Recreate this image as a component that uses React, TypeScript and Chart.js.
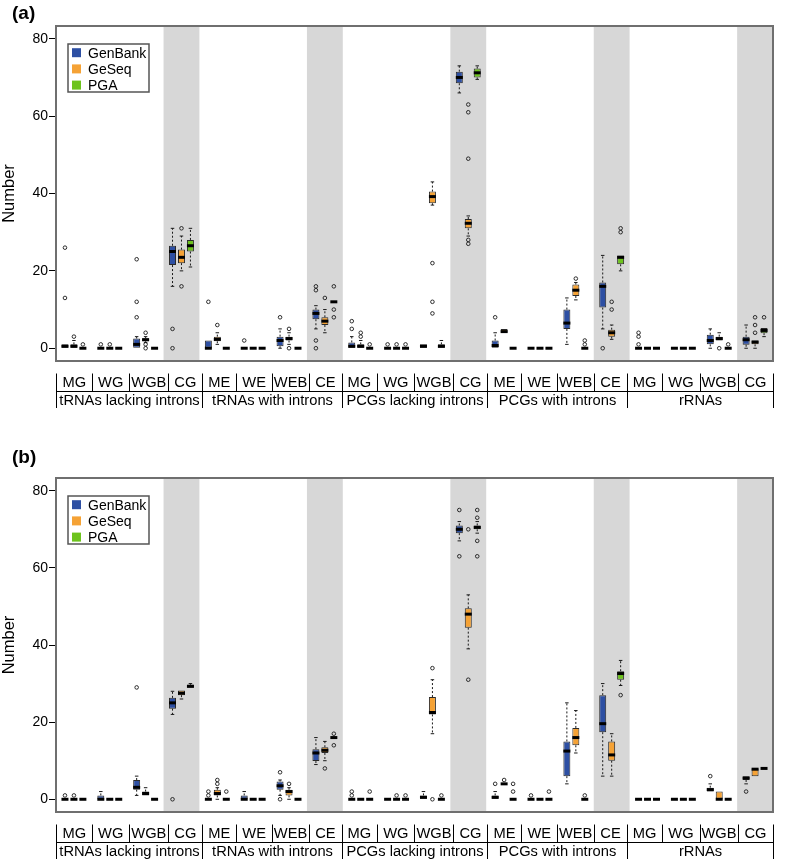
import React, { useEffect, useRef } from 'react';
import { Chart, registerables } from 'chart.js';
Chart.register(...registerables);

// ---------- labels ----------
const sections = ['tRNAs lacking introns', 'tRNAs with introns', 'PCGs lacking introns', 'PCGs with introns', 'rRNAs'];
const subLabels = ['MG', 'WG', 'WGB', 'CG', 'ME', 'WE', 'WEB', 'CE', 'MG', 'WG', 'WGB', 'CG', 'ME', 'WE', 'WEB', 'CE', 'MG', 'WG', 'WGB', 'CG'];
const seriesNames = ['GenBank', 'GeSeq', 'PGA'];
const seriesColors = ['#2d4fa3', '#f5a235', '#6dc31d'];
const yTicks = [0, 20, 40, 60, 80];

// ---------- panel (a): [lowerWhisker, Q1, median, Q3, upperWhisker] ----------
const aGenBank = [
  [0, 0, 0.5, 1, 1], [0, 0, 0, 0, 0], [0, 0, 1, 2.5, 3], [16, 21.5, 25, 26.5, 31],
  [0, 0, 0, 2, 2], [0, 0, 0, 0, 0], [0, 0.5, 2, 3, 5], [5, 7.5, 9, 10, 11],
  [0, 0, 0.5, 1.5, 3], [0, 0, 0, 0, 0], [0, 0, 0.5, 1, 1], [66, 68.5, 70, 71.5, 73],
  [0, 0, 0.7, 2, 4], [0, 0, 0, 0, 0], [1, 5, 6.5, 10, 13], [5, 10.5, 16, 17, 24],
  [0, 0, 0, 0, 0], [0, 0, 0, 0, 0], [0, 1, 2, 3.5, 5], [0, 0.9, 2.2, 3, 6],
];
const aGenBankOut = [[13, 26], [1], [8, 12, 23], [5, 0], [12], [2], [8], [15, 16, 2, 0], [5, 7], [1], [], [], [8], [], [], [0], [1, 3, 4], [], [], []];
const aGeSeq = [
  [0, 0, 0.5, 1, 2], [0, 0, 0, 0, 0], [1.5, 1.8, 2.2, 2.6, 3], [20, 22, 23.5, 25.5, 29],
  [1, 1.8, 2.3, 3, 4], [0, 0, 0, 0, 0], [1, 2, 2.5, 3, 4], [4, 6, 7, 8, 10],
  [0, 0, 0.5, 1, 2], [0, 0, 0, 0, 0], [37, 37.5, 39.2, 40.5, 43], [29, 31, 32.3, 33.4, 34.2],
  [4, 4, 4.3, 5, 5], [0, 0, 0, 0, 0], [12.5, 13.5, 15, 16.5, 17], [2.3, 3, 4, 4.8, 6],
  [0, 0, 0, 0, 0], [0, 0, 0, 0, 0], [2, 2, 2.5, 3, 4], [0, 1, 1.6, 2, 2],
];
const aGeSeqOut = [[3], [1], [4, 1, 0], [31, 16], [6], [], [5, 0], [13], [3, 4], [1], [22, 12, 9], [28, 27, 49, 61, 63], [], [], [18], [10, 12], [], [], [0], [4, 6, 8]];
const aPGA = [
  [0, 0, 0, 0, 0], [0, 0, 0, 0, 0], [0, 0, 0, 0, 0], [21, 25, 26.5, 28, 31],
  [0, 0, 0, 0, 0], [0, 0, 0, 0, 0], [0, 0, 0, 0, 0], [12, 12, 12, 12, 12],
  [0, 0, 0, 0, 0], [0, 0, 0, 0, 0], [0, 0, 0.5, 1, 2], [69.5, 70, 71.2, 72.3, 73],
  [0, 0, 0, 0, 0], [0, 0, 0, 0, 0], [0, 0, 0, 0, 0], [20, 21.7, 23.5, 24, 24],
  [0, 0, 0, 0, 0], [0, 0, 0, 0, 0], [0, 0, 0, 0, 0], [3, 3.9, 4.6, 5.2, 5.2],
];
const aPGAOut = [[1], [], [], [], [], [], [], [16, 10, 8], [1], [1], [], [], [], [], [1, 2], [30, 31], [], [], [1], [8]];

// ---------- panel (b) ----------
const bGenBank = [
  [0, 0, 0, 0, 0], [0, 0, 0, 1, 2], [1, 2.5, 3.1, 5, 6], [22, 23.5, 25, 26.3, 28],
  [0, 0, 0, 0, 0], [0, 0, 0, 1, 2], [1, 2.5, 3.5, 4.6, 5], [9, 9.9, 12, 13, 16],
  [0, 0, 0, 0, 0], [0, 0, 0, 0, 0], [0, 0, 0.5, 1, 2], [67, 69, 70, 71, 72],
  [0, 0, 0.5, 1, 2], [0, 0, 0, 0, 0], [4, 6, 12.5, 15, 25], [6, 17.4, 19.6, 27, 30],
  [0, 0, 0, 0, 0], [0, 0, 0, 0, 0], [2, 2, 2.5, 3, 4], [4, 5, 5.5, 6, 6],
];
const bGenBankOut = [[1], [], [29], [0], [1, 2], [], [7, 0], [], [1, 2], [], [], [63, 75], [4], [1], [], [], [], [], [6], [2]];
const bGeSeq = [
  [0, 0, 0, 0, 0], [0, 0, 0, 0, 0], [1, 1, 1.5, 2, 3], [26, 27, 27.5, 28.2, 28.2],
  [0, 1, 1.5, 2.5, 3], [0, 0, 0, 0, 0], [0, 1, 2, 2.5, 3], [10, 12, 12.7, 13.5, 15],
  [0, 0, 0, 0, 0], [0, 0, 0, 0, 0], [17, 22, 22.5, 26.5, 31], [39, 44.5, 48, 49.5, 53],
  [4, 4, 4, 4, 4], [0, 0, 0, 0, 0], [12, 14, 16, 18.5, 23], [6, 10, 11.5, 15, 17],
  [0, 0, 0, 0, 0], [0, 0, 0, 0, 0], [0, 0, 0, 2, 2], [6, 6, 7.8, 8, 8],
];
const bGeSeqOut = [[1], [], [], [], [4, 5], [], [4], [8], [], [1], [34, 0], [31, 70], [5], [], [], [], [], [], [], []];
const bPGA = [
  [0, 0, 0, 0, 0], [0, 0, 0, 0, 0], [0, 0, 0, 0, 0], [29, 28.9, 29.3, 29.7, 30],
  [0, 0, 0, 0, 0], [0, 0, 0, 0, 0], [0, 0, 0, 0, 0], [16, 16, 16, 16, 16],
  [0, 0, 0, 0, 0], [0, 0, 0, 0, 0], [0, 0, 0, 0, 0], [69, 70, 70.5, 71, 72],
  [0, 0, 0, 0, 0], [0, 0, 0, 0, 0], [0, 0, 0, 0, 0], [29.5, 31, 32.6, 33.2, 36],
  [0, 0, 0, 0, 0], [0, 0, 0, 0, 0], [0, 0, 0, 0, 0], [8, 8, 8, 8, 8],
];
const bPGAOut = [[], [], [], [], [2], [], [], [17, 14], [2], [1], [1], [75, 73, 67, 63], [2, 4], [2], [1], [27], [], [], [], []];

const FONT = '"Liberation Sans", Arial, Helvetica, sans-serif';
const BAND = '#d7d7d7';
const INK = '#1a1a1a';

const boxPlugin = {
  id: 'boxExtras',
  beforeDatasetsDraw(chart: any) {
    const { ctx, chartArea: ca } = chart;
    const x = chart.scales.x;
    const y = chart.scales.y;
    const n = subLabels.length;
    const w = (ca.right - ca.left) / n;
    ctx.save();
    ctx.fillStyle = BAND;
    subLabels.forEach((l, i) => {
      if (l.startsWith('C')) {
        const cx = x.getPixelForValue(i);
        ctx.fillRect(cx - w / 2, ca.top, w, ca.bottom - ca.top);
      }
    });
    // whiskers
    ctx.strokeStyle = INK;
    ctx.lineWidth = 1;
    chart.data.datasets.forEach((ds: any, di: number) => {
      const meta = chart.getDatasetMeta(di);
      ds.box.forEach((b: number[], i: number) => {
        const el = meta.data[i];
        const cx = el.x;
        const bw = el.width;
        const [lo, q1, , q3, hi] = b;
        const seg = (a: number, c: number) => {
          ctx.setLineDash([2, 2]);
          ctx.beginPath();
          ctx.moveTo(cx, y.getPixelForValue(a));
          ctx.lineTo(cx, y.getPixelForValue(c));
          ctx.stroke();
          ctx.setLineDash([]);
          const yy = y.getPixelForValue(c);
          ctx.beginPath();
          ctx.moveTo(cx - bw / 4, yy);
          ctx.lineTo(cx + bw / 4, yy);
          ctx.stroke();
        };
        if (hi > q3) seg(q3, hi);
        if (lo < q1) seg(q1, lo);
      });
    });
    ctx.restore();
  },
  afterDatasetsDraw(chart: any) {
    const { ctx, chartArea: ca } = chart;
    const y = chart.scales.y;
    ctx.save();
    chart.data.datasets.forEach((ds: any, di: number) => {
      const meta = chart.getDatasetMeta(di);
      ds.box.forEach((b: number[], i: number) => {
        const el = meta.data[i];
        const cx = el.x;
        const bw = el.width;
        const med = b[2];
        ctx.strokeStyle = '#000';
        ctx.lineWidth = 3;
        ctx.beginPath();
        ctx.moveTo(cx - bw / 2, y.getPixelForValue(med));
        ctx.lineTo(cx + bw / 2, y.getPixelForValue(med));
        ctx.stroke();
        ctx.lineWidth = 0.9;
        ctx.strokeStyle = INK;
        ds.out[i].forEach((v: number) => {
          ctx.beginPath();
          ctx.arc(cx, y.getPixelForValue(v), 1.8, 0, Math.PI * 2);
          ctx.stroke();
        });
      });
    });
    // frame
    ctx.strokeStyle = '#6f6f6f';
    ctx.lineWidth = 2;
    ctx.strokeRect(ca.left, ca.top, ca.right - ca.left, ca.bottom - ca.top);
    ctx.restore();
  },
  afterDraw(chart: any) {
    const { ctx, chartArea: ca } = chart;
    const opts = chart.options.plugins.boxExtras;
    ctx.save();
    // panel label
    ctx.fillStyle = '#000';
    ctx.font = `bold 19px ${FONT}`;
    ctx.textBaseline = 'alphabetic';
    ctx.textAlign = 'left';
    ctx.fillText(opts.panel, 12, opts.panelY);

    // legend
    const lx = ca.left + 12;
    const ly = ca.top + 18;
    ctx.fillStyle = '#fff';
    ctx.fillRect(lx, ly, 81, 48);
    ctx.strokeStyle = '#555';
    ctx.lineWidth = 1.5;
    ctx.strokeRect(lx, ly, 81, 48);
    ctx.font = `14px ${FONT}`;
    chart.data.datasets.forEach((ds: any, i: number) => {
      const cy = ly + 8.7 + i * 16.2;
      ctx.fillStyle = ds.backgroundColor;
      ctx.fillRect(lx + 4, cy - 4.5, 9, 9);
      ctx.fillStyle = '#000';
      ctx.fillText(ds.label, lx + 20, cy + 5);
    });

    // label table
    ctx.font = `14.7px ${FONT}`;
    let str = '';
    const labelIdx: [number, string][] = [];
    const pipeIdx: number[] = [];
    subLabels.forEach((l) => {
      pipeIdx.push(str.length);
      str += l.length >= 3 ? '|' : '| ';
      labelIdx.push([str.length, l]);
      str += l;
      if (l.length < 3) str += ' ';
    });
    pipeIdx.push(str.length);
    str += '|';
    const total = ctx.measureText(str).width;
    const pipeW = ctx.measureText('|').width;
    const start = (ca.left + ca.right) / 2 - total / 2;
    const px = (i: number) => start + ctx.measureText(str.slice(0, i)).width;
    const yb = ca.bottom;
    ctx.fillStyle = '#000';
    labelIdx.forEach(([i, l]) => ctx.fillText(l, px(i), yb + 25.5));
    ctx.strokeStyle = '#000';
    ctx.lineWidth = 1;
    const pipeX = pipeIdx.map((i) => Math.round(px(i) + pipeW / 2) + 0.5);
    pipeX.forEach((xx, k) => {
      const sec = k % 4 === 0;
      ctx.beginPath();
      ctx.moveTo(xx, yb + 12.5);
      ctx.lineTo(xx, sec ? yb + 47 : yb + 30);
      ctx.stroke();
    });
    ctx.beginPath();
    ctx.moveTo(pipeX[0], yb + 30.5);
    ctx.lineTo(pipeX[pipeX.length - 1], yb + 30.5);
    ctx.stroke();
    ctx.textAlign = 'center';
    sections.forEach((s, k) => {
      const a = pipeX[k * 4];
      const b = pipeX[k * 4 + 4];
      ctx.fillText(s, (a + b) / 2, yb + 44);
    });
    ctx.restore();
  },
};

type PanelProps = {
  panel: string;
  panelY: number;
  height: number;
  top: number;
  bottom: number;
  boxes: number[][][];
  outs: number[][][];
};

function Panel({ panel, panelY, height, top, bottom, boxes, outs }: PanelProps) {
  const ref = useRef<HTMLCanvasElement>(null);
  useEffect(() => {
    if (!ref.current) return;
    const chart = new Chart(ref.current, {
      type: 'bar',
      data: {
        labels: subLabels,
        datasets: seriesNames.map((name, si) => ({
          label: name,
          data: boxes[si].map((b) => [b[1], b[3]]),
          backgroundColor: seriesColors[si],
          borderColor: '#2a2a2a',
          borderWidth: 1,
          borderSkipped: false,
          categoryPercentage: 0.75,
          barPercentage: 0.78,
          box: boxes[si],
          out: outs[si],
        })) as any,
      },
      options: {
        responsive: false,
        animation: false,
        events: [],
        layout: { padding: { left: 0, right: 24, top, bottom } },
        plugins: {
          legend: { display: false },
          tooltip: { enabled: false },
          boxExtras: { panel, panelY },
        } as any,
        scales: {
          x: { display: false },
          y: {
            min: -3.3,
            max: 83.3,
            afterBuildTicks: (s: any) => {
              s.ticks = yTicks.map((v) => ({ value: v }));
            },
            afterFit: (s: any) => {
              s.width = 56;
            },
            ticks: { color: '#000', padding: 1, font: { family: FONT, size: 14 } },
            grid: { drawOnChartArea: false, drawTicks: true, tickLength: 7, color: '#000' },
            border: { display: false },
            title: {
              display: true,
              text: 'Number',
              color: '#000',
              padding: 0,
              font: { family: FONT, size: 16.5 },
            },
          },
        },
      },
      plugins: [boxPlugin],
    });
    return () => chart.destroy();
  }, []);
  return <canvas ref={ref} width={797} height={height} style={{ display: 'block' }} />;
}

export default function App() {
  return (
    <div style={{ position: 'absolute', left: 0, top: 0, width: 797, height: 862, background: '#fff' }}>
      <Panel
        panel="(a)"
        panelY={19}
        height={420}
        top={26}
        bottom={59}
        boxes={[aGenBank, aGeSeq, aPGA]}
        outs={[aGenBankOut, aGeSeqOut, aPGAOut]}
      />
      <Panel
        panel="(b)"
        panelY={43}
        height={442}
        top={58}
        bottom={50}
        boxes={[bGenBank, bGeSeq, bPGA]}
        outs={[bGenBankOut, bGeSeqOut, bPGAOut]}
      />
    </div>
  );
}
